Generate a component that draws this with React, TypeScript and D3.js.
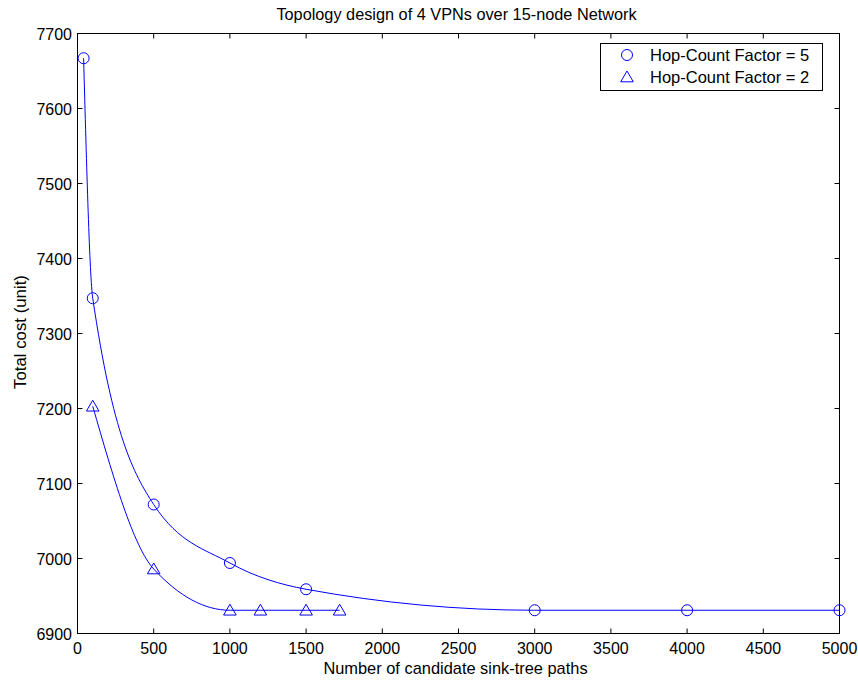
import React from "react";
import * as d3 from "d3";

const hop5X = [40, 100, 500, 1000, 1500, 3000, 4000, 5000];
const hop5Y = [7667, 7347, 7072, 6994, 6959, 6931, 6931, 6931];
const hop2X = [100, 500, 1000, 1200, 1500, 1720];
const hop2Y = [7203, 6986, 6931, 6931, 6931, 6931];
const xTicks = [0, 500, 1000, 1500, 2000, 2500, 3000, 3500, 4000, 4500, 5000];
const yTicks = [6900, 7000, 7100, 7200, 7300, 7400, 7500, 7600, 7700];
const legendLabels = ["Hop-Count Factor = 5", "Hop-Count Factor = 2"];
const title = "Topology design of 4 VPNs over 15-node Network";
const xLabel = "Number of candidate sink-tree paths";
const yLabel = "Total cost (unit)";

const W = 858, H = 681;
const L = 77.5, R = 839.5, T = 33.5, B = 633.5;
const BLUE = "#0000ff";
const FONT = "Liberation Sans, Arial, Helvetica, sans-serif";

export default function App() {
  const x = d3.scaleLinear().domain([0, 5000]).range([L, R]);
  const y = d3.scaleLinear().domain([6900, 7700]).range([B, T]);
  const line = d3
    .line<[number, number]>()
    .x((d) => x(d[0]))
    .y((d) => y(d[1]))
    .curve(d3.curveMonotoneX);
  const d5 = hop5X.map((v, i) => [v, hop5Y[i]] as [number, number]);
  const d2 = hop2X.map((v, i) => [v, hop2Y[i]] as [number, number]);
  const tri = (cx: number, cy: number, s = 6) =>
    `M${cx},${cy - s} L${cx + s * 1.05},${cy + s * 0.8} L${cx - s * 1.05},${cy + s * 0.8} Z`;
  const tl = 5;
  return (
    <svg
      width={W}
      height={H}
      style={{ position: "absolute", left: 0, top: 0, background: "#fff" }}
      fontFamily={FONT}
    >
      <rect x={0} y={0} width={W} height={H} fill="#fff" />
      {xTicks.map((t) => (
        <g key={"x" + t}>
          <line x1={x(t)} x2={x(t)} y1={B} y2={B - tl} stroke="#000" />
          <line x1={x(t)} x2={x(t)} y1={T} y2={T + tl} stroke="#000" />
          <text x={x(t)} y={B + 20} fontSize={16} textAnchor="middle" fill="#000">
            {t}
          </text>
        </g>
      ))}
      {yTicks.map((t) => (
        <g key={"y" + t}>
          <line x1={L} x2={L + tl} y1={y(t)} y2={y(t)} stroke="#000" />
          <line x1={R} x2={R - tl} y1={y(t)} y2={y(t)} stroke="#000" />
          <text x={L - 5.5} y={y(t) + 6} fontSize={16} textAnchor="end" fill="#000">
            {t}
          </text>
        </g>
      ))}
      <rect x={L} y={T} width={R - L} height={B - T} fill="none" stroke="#000" strokeWidth={1} />
      <path d={line(d5) || ""} fill="none" stroke={BLUE} strokeWidth={1} />
      <path d={line(d2) || ""} fill="none" stroke={BLUE} strokeWidth={1} />
      {d5.map((d, i) => (
        <circle key={"c" + i} cx={x(d[0])} cy={y(d[1])} r={5.5} fill="none" stroke={BLUE} strokeWidth={1} />
      ))}
      {d2.map((d, i) => (
        <path key={"t" + i} d={tri(x(d[0]), y(d[1]))} fill="none" stroke={BLUE} strokeWidth={1} />
      ))}
      <rect x={600.5} y={43.5} width={222} height={47} fill="#fff" stroke="#000" />
      <circle cx={627} cy={55} r={5.5} fill="none" stroke={BLUE} />
      <path d={tri(627, 77)} fill="none" stroke={BLUE} />
      <text x={650} y={60.5} fontSize={16.5} fill="#000">{legendLabels[0]}</text>
      <text x={650} y={82.5} fontSize={16.5} fill="#000">{legendLabels[1]}</text>
      <text x={456.5} y={20} fontSize={16.3} textAnchor="middle" fill="#000">{title}</text>
      <text x={455.5} y={673.5} fontSize={16.4} textAnchor="middle" fill="#000">{xLabel}</text>
      <text
        transform={`translate(26,${332}) rotate(-90)`}
        fontSize={16.8}
        textAnchor="middle"
        fill="#000"
      >
        {yLabel}
      </text>
    </svg>
  );
}
